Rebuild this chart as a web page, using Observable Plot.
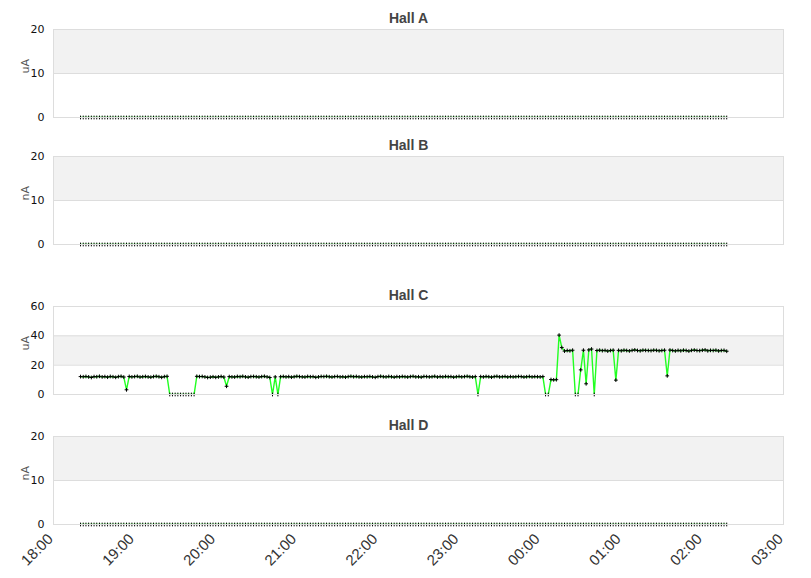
<!DOCTYPE html>
<html><head><meta charset="utf-8">
<script src="https://cdn.jsdelivr.net/npm/d3@7"></script>
<script src="https://cdn.jsdelivr.net/npm/@observablehq/plot@0.6"></script>
<style>body{margin:0;background:#fff} svg{display:block}</style>
</head><body><div id="chart"></div>
<script>
const hallNames = ["Hall A", "Hall B", "Hall C", "Hall D"];
const hallUnits = ["uA", "nA", "uA", "nA"];
const yTicksSmall = [0, 10, 20];
const yTicksC = [0, 20, 40, 60];
const bandsSmall = [{y1: 10, y2: 20}];
const bandsC = [{y1: 20, y2: 40}];
const axisStart = "2024-01-01T18:00:00Z";
const axisEnd = "2024-01-02T03:00:00Z";
const sampleStart = "2024-01-01T18:20:00Z";
const sampleStepMinutes = 2;
const sampleCount = 240;

const zeroValues = [
0,0,0,0,0,0,0,0,0,0,0,0,0,0,0,0,0,0,0,0,0,0,0,0,0,0,0,0,0,0,0,0,0,0,0,0,0,0,0,0,
0,0,0,0,0,0,0,0,0,0,0,0,0,0,0,0,0,0,0,0,0,0,0,0,0,0,0,0,0,0,0,0,0,0,0,0,0,0,0,0,
0,0,0,0,0,0,0,0,0,0,0,0,0,0,0,0,0,0,0,0,0,0,0,0,0,0,0,0,0,0,0,0,0,0,0,0,0,0,0,0,
0,0,0,0,0,0,0,0,0,0,0,0,0,0,0,0,0,0,0,0,0,0,0,0,0,0,0,0,0,0,0,0,0,0,0,0,0,0,0,0,
0,0,0,0,0,0,0,0,0,0,0,0,0,0,0,0,0,0,0,0,0,0,0,0,0,0,0,0,0,0,0,0,0,0,0,0,0,0,0,0,
0,0,0,0,0,0,0,0,0,0,0,0,0,0,0,0,0,0,0,0,0,0,0,0,0,0,0,0,0,0,0,0,0,0,0,0,0,0,0,0
];

const hallCValues = [
12.2,12.1,12.3,12.0,11.6,12.2,12.1,12.4,12.0,12.2,11.8,12.3,12.1,11.7,12.2,12.4,11.9,
3.2,
12.3,12.0,12.2,12.4,11.9,12.1,12.3,12.0,11.8,12.2,12.4,12.1,11.7,12.2,12.4,
0,0,0,0,0,0,0,0,0,0,
12.4,12.2,12.3,12.0,11.6,11.8,12.1,11.7,12.0,12.3,11.9,
5.6,
12.2,12.0,11.9,12.3,12.1,12.4,12.0,11.8,12.2,12.3,12.1,11.9,12.2,12.4,12.0,11.6,
0,12.0,0,
12.1,12.3,12.0,12.2,11.8,12.1,12.4,12.2,12.0,11.9,12.3,12.1,12.2,11.7,12.0,12.3,12.2,12.4,12.1,11.9,
12.2,12.3,12.0,12.1,11.8,12.2,12.4,12.1,12.3,12.0,11.9,12.2,12.1,12.3,12.0,11.7,12.2,12.4,12.1,12.0,
12.3,12.1,11.8,12.2,12.0,12.3,12.1,11.9,12.2,12.4,12.0,12.1,11.8,12.3,12.2,12.0,12.1,12.4,11.9,12.2,
12.0,12.3,12.1,12.2,11.8,12.1,12.3,12.0,12.2,12.4,12.1,11.9,12.2,
0,
12.2,12.0,12.3,12.1,11.8,12.2,12.4,12.0,12.1,12.3,11.9,12.2,12.0,12.1,12.3,12.2,11.9,12.1,12.3,12.0,12.2,12.1,12.0,12.2,
0,0,
10.2,10.0,10.1,
40.5,32.0,
29.6,30.0,29.8,30.2,
0,0,16.8,30.2,7.3,30.4,31.0,0,
30.0,30.2,29.9,30.1,29.6,30.0,30.2,
9.8,
30.1,29.8,30.2,30.0,29.7,30.1,30.4,30.0,29.8,30.2,30.1,30.0,29.9,30.2,30.1,29.8,30.0,30.2,
12.7,
30.3,30.0,29.7,30.1,29.8,30.2,30.0,29.6,30.1,30.3,30.0,29.9,30.2,30.4,29.8,30.1,30.0,30.2,29.7,30.0,30.1,29.5
];

const sampleTimes = d3.range(sampleCount).map(i => new Date(Date.parse(sampleStart) + i * sampleStepMinutes * 60000));
const seriesValues = [zeroValues, zeroValues, hallCValues, zeroValues];
const yMax = [20, 20, 60, 20];
const yTicks = [yTicksSmall, yTicksSmall, yTicksC, yTicksSmall];
const bands = [bandsSmall, bandsSmall, bandsC, bandsSmall];
const svgHeights = [127, 150, 130, 171];
const bottomMargins = [10, 33, 13, 54];

const root = document.getElementById("chart");
hallNames.forEach((name, k) => {
  const data = sampleTimes.map((t, i) => ({time: t, value: seriesValues[k][i]}));
  const last = k === hallNames.length - 1;
  const marks = [
    Plot.rectY(bands[k], {y1: "y1", y2: "y2", fill: "#f2f2f2"}),
    Plot.ruleY(yTicks[k], {stroke: "#dddddd"}),
    Plot.axisY({ticks: yTicks[k], tickSize: 0, tickPadding: 9, label: null, fontSize: 11, fill: "#111"}),
    Plot.text([hallUnits[k]], {frameAnchor: "left", dx: -28, rotate: -90, fontSize: 11, fill: "#555"}),
    Plot.line(data, {x: "time", y: "value", stroke: "#22ff22", strokeWidth: 1.4, clip: true}),
    Plot.dot(data, {x: "time", y: "value", symbol: "plus", r: 1.3, stroke: "black", strokeWidth: 1}),
    Plot.frame({stroke: "#dddddd"}),
    Plot.text([name], {frameAnchor: "top", dy: -11, dx: -10, lineAnchor: "middle", fontWeight: "bold", fontSize: 14, fill: "#444", fontFamily: "Liberation Sans, Arial, sans-serif"})
  ];
  if (last) {
    marks.push(Plot.axisX({
      ticks: d3.utcHour.every(1),
      tickFormat: d3.utcFormat("%H:%M"),
      tickRotate: -45,
      tickSize: 0,
      tickPadding: 12,
      dx: -3,
      label: null,
      fontSize: 15,
      fontFamily: "Liberation Sans, Arial, sans-serif",
      fill: "#333"
    }));
  }
  const svg = Plot.plot({
    width: 811,
    height: svgHeights[k],
    marginLeft: 53,
    marginRight: 28,
    marginTop: 29,
    marginBottom: bottomMargins[k],
    style: {fontFamily: "DejaVu Sans, sans-serif", fontSize: "11px", color: "#222", background: "white"},
    x: {type: "utc", domain: [new Date(axisStart), new Date(axisEnd)], axis: last ? undefined : null},
    y: {domain: [0, yMax[k]]},
    marks
  });
  root.appendChild(svg);
});
</script>
</body></html>
